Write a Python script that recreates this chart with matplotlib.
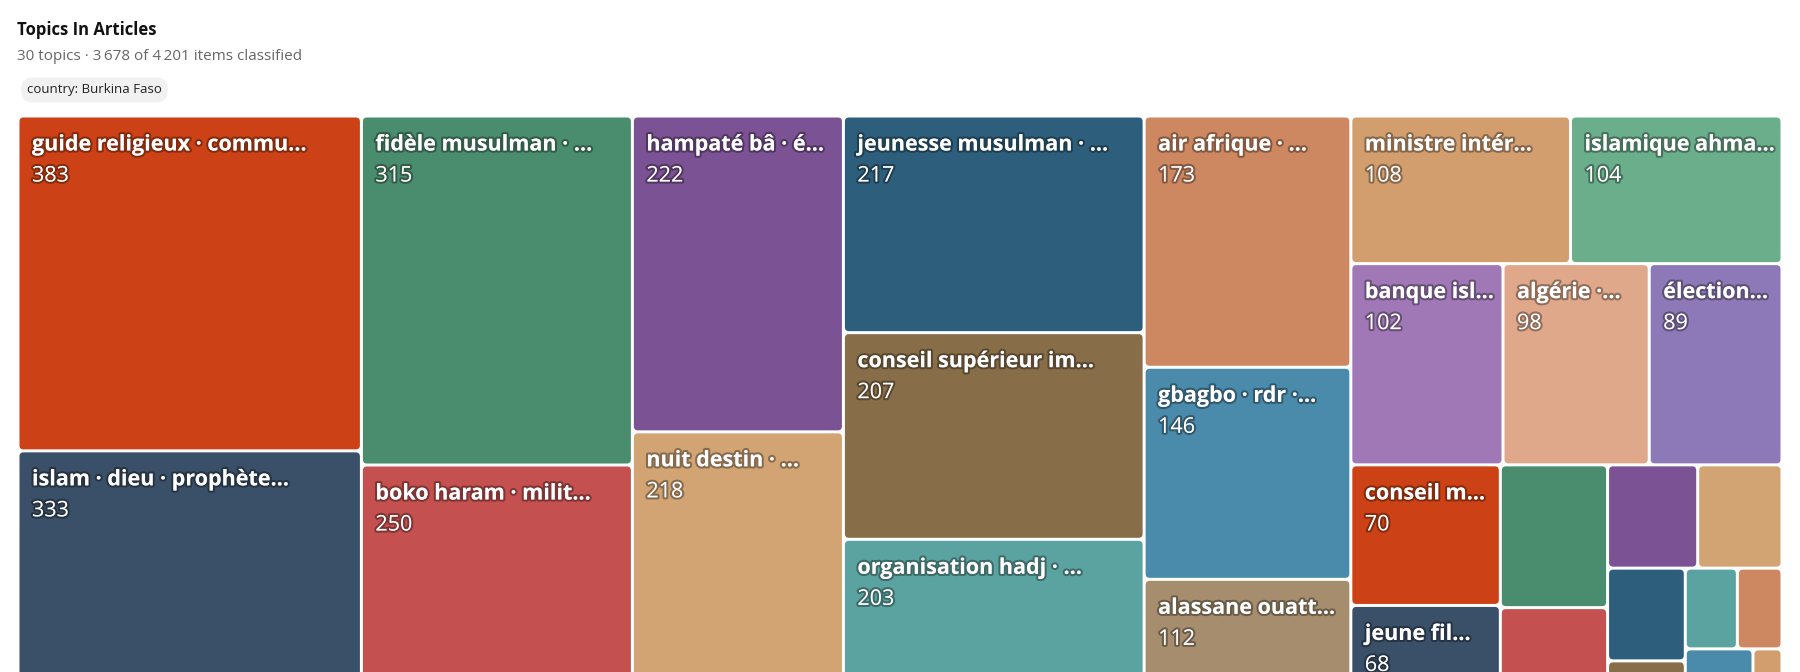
import matplotlib
matplotlib.use("Agg")
import matplotlib.pyplot as plt
from matplotlib.patches import FancyBboxPatch
import matplotlib.patheffects as pe

plt.rcParams['font.family'] = ['Open Sans', 'DejaVu Sans']

labels = ["guide religieux · commu…", "islam · dieu · prophète…", "fidèle musulman · …",
          "boko haram · milit…", "hampaté bâ · é…", "nuit destin · …", "jeunesse musulman · …",
          "conseil supérieur im…", "organisation hadj · …", "air afrique · …", "gbagbo · rdr ·…",
          "alassane ouatt…", "ministre intér…", "islamique ahma…", "banque isl…", "algérie ·…",
          "élection…", "conseil m…", "jeune fil…", "", "", "", "", "", "", "", "", "", "", ""]
values = [383, 333, 315, 250, 222, 218, 217, 207, 203, 173, 146, 112, 108, 104, 102, 98, 89,
          70, 68, 51, 48, 31, 29, 24, 21, 14, 12, 11, 10, 9]
palette = ["#CC4115", "#3A4F68", "#4A8C6E", "#C4504F", "#7B5294", "#D2A474", "#2D5F7D",
           "#886E48", "#5BA3A0", "#CD8862", "#4A8AAB", "#A68D6E", "#D39E6E", "#6AAE8C",
           "#A078B6", "#E0A88A", "#8E79B8"]

def squarify(vals, x0, y0, x1, y1, ratio=1.0):
    rects = [None] * len(vals)
    n = len(vals); i0 = 0; i1 = 0; value = float(sum(vals))
    while i0 < n:
        dx = x1 - x0; dy = y1 - y0
        s = vals[i1]; i1 += 1
        mn = mx = s
        alpha = max(dy / dx, dx / dy) / (value * ratio)
        beta = s * s * alpha
        minr = max(mx / beta, beta / mn)
        while i1 < n:
            v = vals[i1]; s += v
            mn = min(mn, v); mx = max(mx, v)
            beta = s * s * alpha
            nr = max(mx / beta, beta / mn)
            if nr > minr:
                s -= v; break
            minr = nr; i1 += 1
        idx = list(range(i0, i1))
        if dx < dy:
            ny = y0 + dy * s / value if value else y1
            cx = x0
            for j in idx:
                w = (x1 - x0) * vals[j] / s
                rects[j] = (cx, y0, cx + w, ny); cx += w
            y0 = ny
        else:
            nx = x0 + dx * s / value if value else x1
            cy = y0
            for j in idx:
                h = (y1 - y0) * vals[j] / s
                rects[j] = (x0, cy, nx, cy + h); cy += h
            x0 = nx
        value -= s; i0 = i1
    return rects

W, H = 1800, 672
fig = plt.figure(figsize=(18, 6.72), dpi=100)
ax = fig.add_axes([0, 0, 1, 1])
ax.set_xlim(0, W); ax.set_ylim(H, 0); ax.axis('off')

fig.text(17 / W, 1 - 30 / H, "Topics In Articles", fontsize=12, fontweight='bold', color='#111', va='center')
fig.text(17 / W, 1 - 56 / H, "30 topics · 3\u2009678 of 4\u2009201 items classified", fontsize=11, color='#666', va='center')
ax.text(27, 90, "country: Burkina Faso", fontsize=9.5, color='#222', va='center',
        bbox=dict(boxstyle="round,pad=0.45,rounding_size=0.9", fc='#F1F1F1', ec='none'))

rects = squarify(values, 18, 116, 1782, 742)
gap = 1.5
for i, (a, b, c, d) in enumerate(rects):
    col = palette[i % len(palette)]
    ax.add_patch(FancyBboxPatch((a + gap, b + gap), c - a - 2 * gap, d - b - 2 * gap,
                                boxstyle="round,pad=0,rounding_size=4", fc=col, ec='none'))
    if labels[i]:
        t1 = ax.text(a + 14, b + 29, labels[i], fontsize=15.5, fontweight='bold', color='white', va='center')
        t2 = ax.text(a + 14, b + 60, str(values[i]), fontsize=15.5, color='white', va='center')
        for t in (t1, t2):
            t.set_path_effects([pe.withStroke(linewidth=3, foreground=(0, 0, 0, 0.35))])

fig.savefig("out.png", dpi=100)
